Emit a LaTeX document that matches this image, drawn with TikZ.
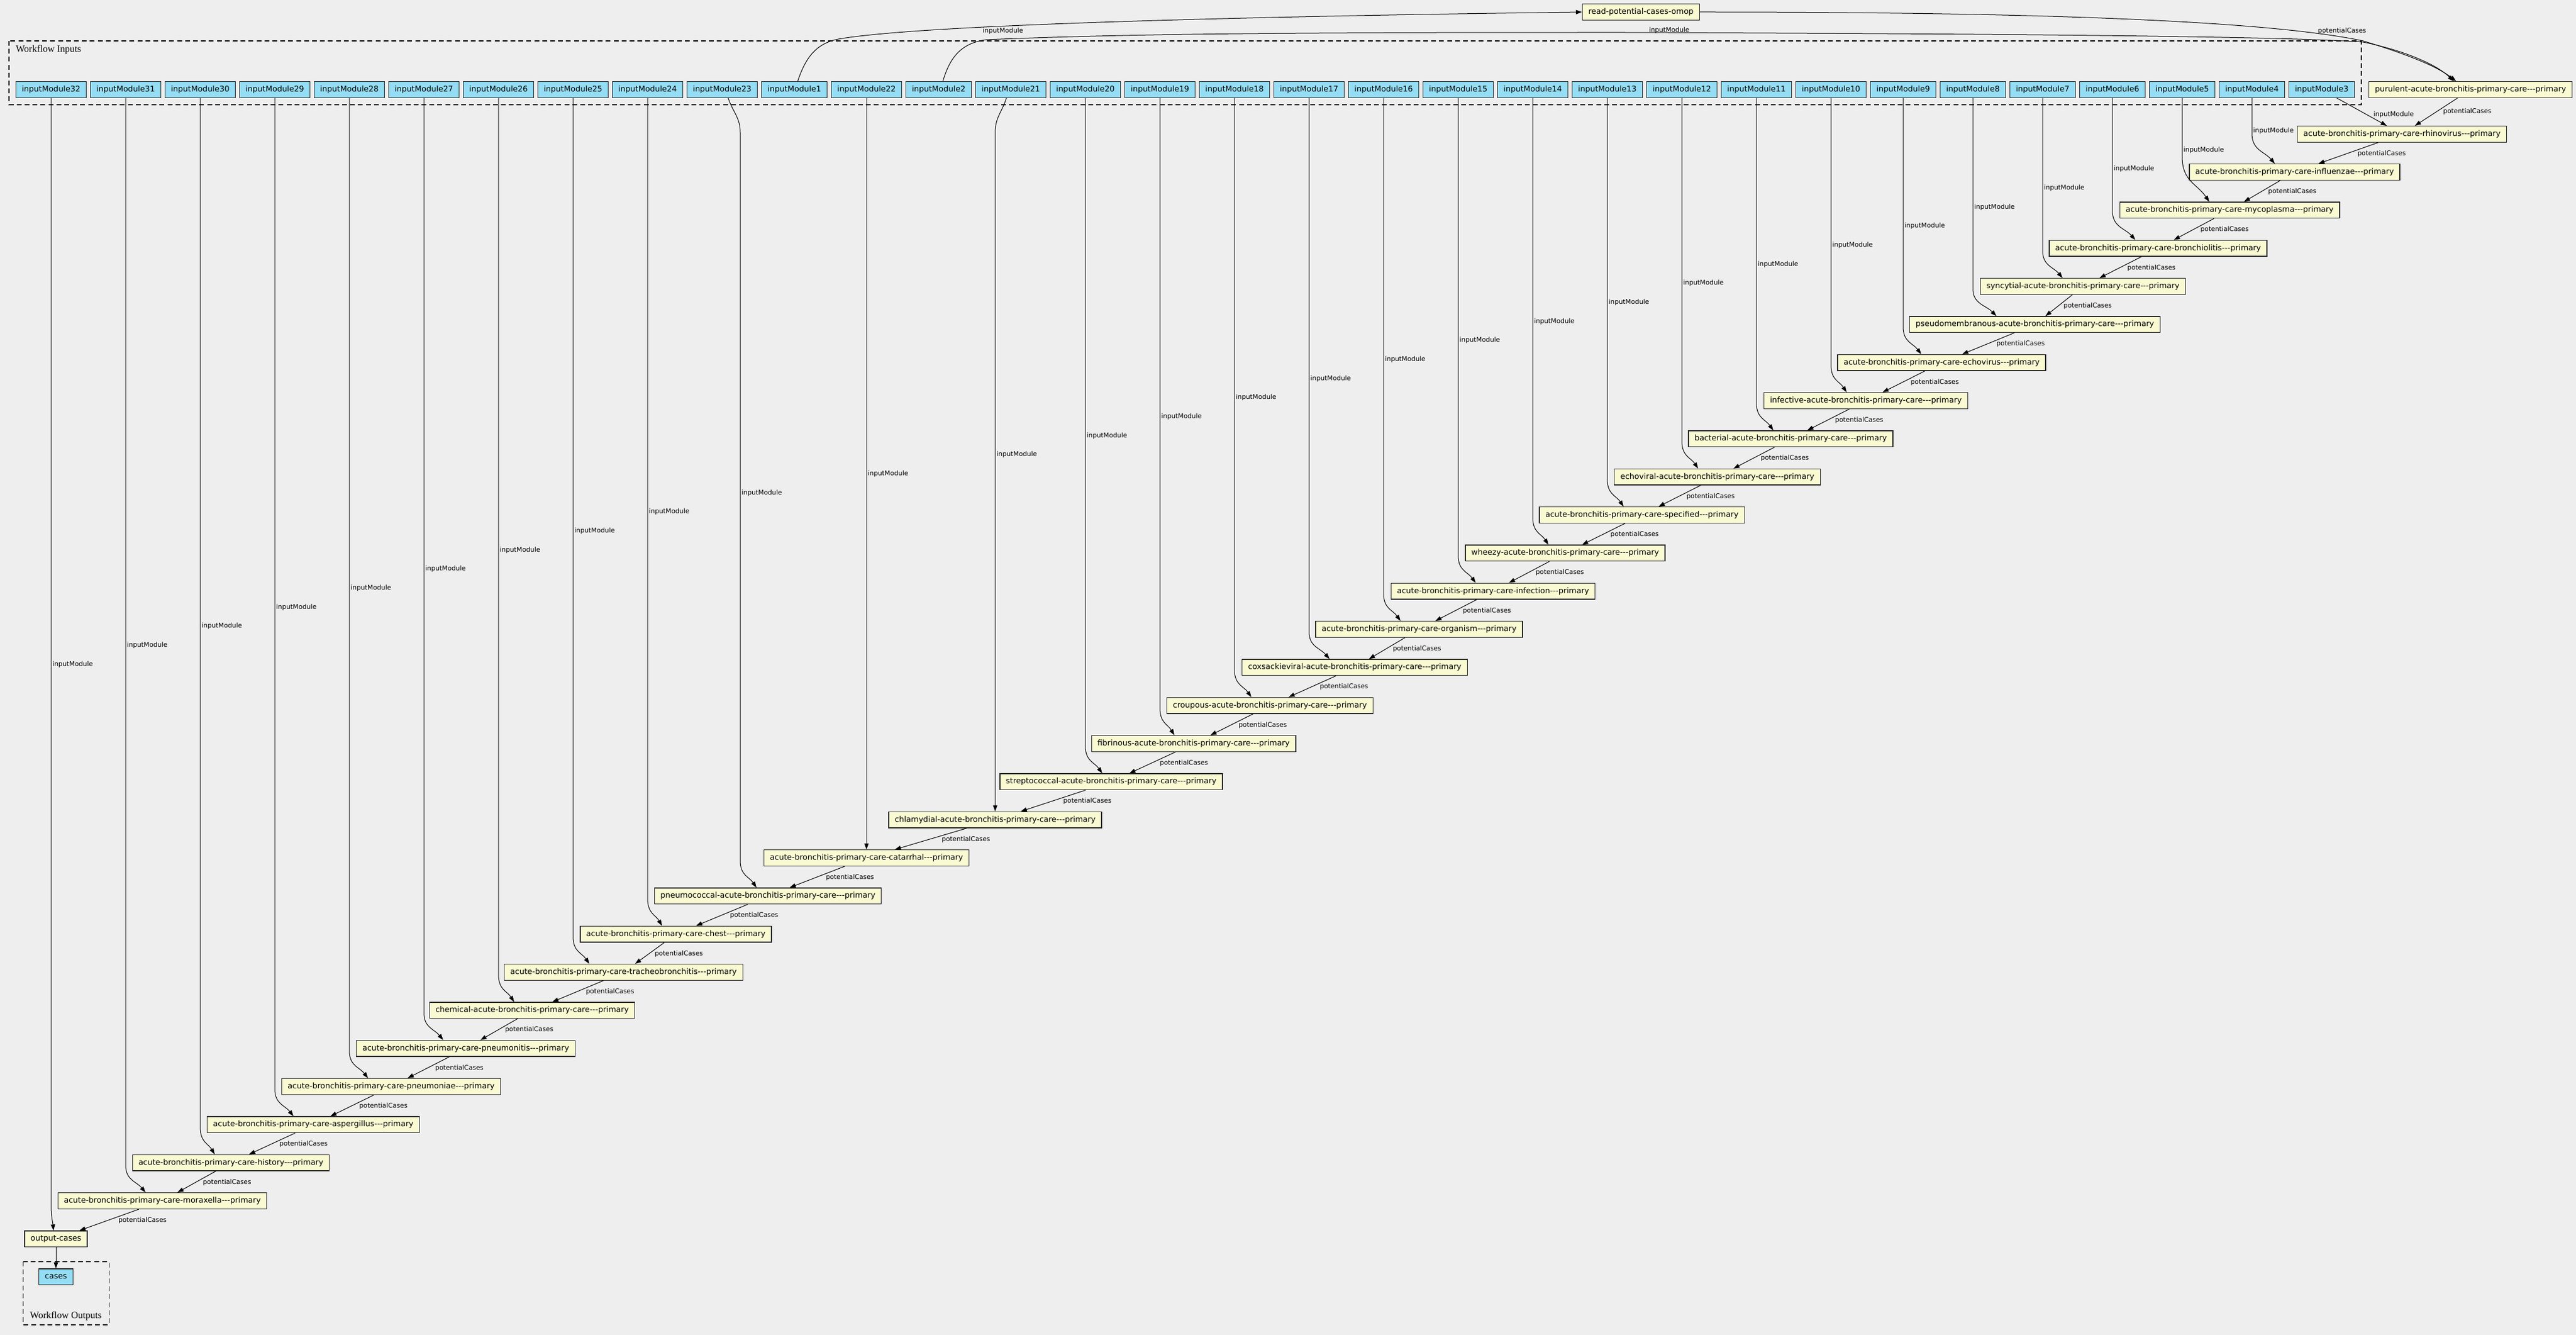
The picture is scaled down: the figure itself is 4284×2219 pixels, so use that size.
\documentclass[tikz,border=0pt]{standalone}
\usepackage{fontspec}
\newfontfamily\dvsans{DejaVu Sans}
\newfontfamily\lbserif{Liberation Serif}
\usetikzlibrary{arrows.meta,calc}
\definecolor{bgc}{HTML}{EEEEEE}
\definecolor{inblue}{HTML}{94DDF4}
\definecolor{stepyel}{HTML}{FAFAD2}
% #1 bend height (px), #2 source, #3 target, #4 arrival x offset (px)
\newcommand\imedge[4][45]{%
  \draw[edge] (#2.south) -- ($(#2.south |- #3.north)+(0,-#1)$)
    .. controls ($(#2.south |- #3.north)+(0,{-0.45*#1})$) and ($(#2.south |- #3.north)+({0.55*#4},{-0.4*#1})$)
    .. ($(#2.south |- #3.north)+(#4,0)$);
  \path (#2.south) -- (#2.south |- #3.north) node[midway, imlbl] {inputModule};
}
\begin{document}
\begin{tikzpicture}[x=0.5pt,y=-0.5pt,
  box/.style={draw=black!85, line width=0.7pt, font=\dvsans\fontsize{6.5pt}{7.8pt}\selectfont, inner xsep=5pt, inner ysep=0pt, text height=4.9pt, text depth=1.4pt, minimum height=13.3pt},
  inbox/.style={box, fill=inblue},
  stepbox/.style={box, fill=stepyel},
  edge/.style={draw=black, line width=0.5pt, -{Triangle[length=5pt,width=3.5pt]}},
  lbl/.style={font=\dvsans\fontsize{5.4pt}{6.5pt}\selectfont, inner sep=0pt},
  imlbl/.style={lbl, anchor=west, inner sep=1pt},
  pcl/.style={lbl, pos=0.36, anchor=north west, xshift=0.6pt},
  cluster/.style={draw=black, line width=0.6pt, dash pattern=on 4pt off 2.6pt},
  clbl/.style={font=\lbserif\fontsize{8pt}{9.6pt}\selectfont, inner sep=0pt}]
\path[use as bounding box, fill=bgc] (0,0) rectangle (4284,2219);

% clusters
\draw[cluster] (15,68) rectangle (3927,174);
\node[clbl, anchor=west] (wfin) at (26,83) {Workflow Inputs};
\draw[cluster] (38.6,2097) rectangle (181.4,2202);
\node[clbl] (wfout) at (109.5,2188) {Workflow Outputs};

% input modules
\node[inbox] (im32) at (85,149) {inputModule32};
\node[inbox] (im31) at (209,149) {inputModule31};
\node[inbox] (im30) at (333,149) {inputModule30};
\node[inbox] (im29) at (457,149) {inputModule29};
\node[inbox] (im28) at (581,149) {inputModule28};
\node[inbox] (im27) at (705,149) {inputModule27};
\node[inbox] (im26) at (829,149) {inputModule26};
\node[inbox] (im25) at (953,149) {inputModule25};
\node[inbox] (im24) at (1077,149) {inputModule24};
\node[inbox] (im23) at (1201,149) {inputModule23};
\node[inbox] (im1) at (1321,149) {inputModule1};
\node[inbox] (im22) at (1441,149) {inputModule22};
\node[inbox] (im2) at (1561,149) {inputModule2};
\node[inbox] (im21) at (1681,149) {inputModule21};
\node[inbox] (im20) at (1805,149) {inputModule20};
\node[inbox] (im19) at (1929,149) {inputModule19};
\node[inbox] (im18) at (2053,149) {inputModule18};
\node[inbox] (im17) at (2177,149) {inputModule17};
\node[inbox] (im16) at (2301,149) {inputModule16};
\node[inbox] (im15) at (2425,149) {inputModule15};
\node[inbox] (im14) at (2549,149) {inputModule14};
\node[inbox] (im13) at (2673,149) {inputModule13};
\node[inbox] (im12) at (2797,149) {inputModule12};
\node[inbox] (im11) at (2921,149) {inputModule11};
\node[inbox] (im10) at (3045,149) {inputModule10};
\node[inbox] (im9) at (3165,149) {inputModule9};
\node[inbox] (im8) at (3281,149) {inputModule8};
\node[inbox] (im7) at (3397,149) {inputModule7};
\node[inbox] (im6) at (3513,149) {inputModule6};
\node[inbox] (im5) at (3629,149) {inputModule5};
\node[inbox] (im4) at (3745,149) {inputModule4};
\node[inbox] (im3) at (3861,149) {inputModule3};

% steps
\node[stepbox] (read) at (2729,20) {read-potential-cases-omop};
\node[stepbox] (pur) at (4108.5,149) {purulent-acute-bronchitis-primary-care---primary};
\node[stepbox] (rhi) at (3994.5,223) {acute-bronchitis-primary-care-rhinovirus---primary};
\node[stepbox] (infl) at (3816,286) {acute-bronchitis-primary-care-influenzae---primary};
\node[stepbox] (myc) at (3708,349.33) {acute-bronchitis-primary-care-mycoplasma---primary};
\node[stepbox] (bro) at (3589,412.67) {acute-bronchitis-primary-care-bronchiolitis---primary};
\node[stepbox] (syn) at (3464,476) {syncytial-acute-bronchitis-primary-care---primary};
\node[stepbox] (pse) at (3384,539.33) {pseudomembranous-acute-bronchitis-primary-care---primary};
\node[stepbox] (ecv) at (3229,602.67) {acute-bronchitis-primary-care-echovirus---primary};
\node[stepbox] (ifv) at (3103,666) {infective-acute-bronchitis-primary-care---primary};
\node[stepbox] (bac) at (2978,729.33) {bacterial-acute-bronchitis-primary-care---primary};
\node[stepbox] (ecl) at (2856,792.67) {echoviral-acute-bronchitis-primary-care---primary};
\node[stepbox] (spe) at (2730.6,856) {acute-bronchitis-primary-care-specified---primary};
\node[stepbox] (whe) at (2603,919.33) {wheezy-acute-bronchitis-primary-care---primary};
\node[stepbox] (ifn) at (2483,982.67) {acute-bronchitis-primary-care-infection---primary};
\node[stepbox] (org) at (2360,1046) {acute-bronchitis-primary-care-organism---primary};
\node[stepbox] (cox) at (2253,1109.33) {coxsackieviral-acute-bronchitis-primary-care---primary};
\node[stepbox] (cro) at (2112,1172.67) {croupous-acute-bronchitis-primary-care---primary};
\node[stepbox] (fib) at (1985,1236) {fibrinous-acute-bronchitis-primary-care---primary};
\node[stepbox] (str) at (1848,1299.33) {streptococcal-acute-bronchitis-primary-care---primary};
\node[stepbox] (chl) at (1655,1362.67) {chlamydial-acute-bronchitis-primary-care---primary};
\node[stepbox] (cat) at (1441,1426) {acute-bronchitis-primary-care-catarrhal---primary};
\node[stepbox] (pnc) at (1277,1489.33) {pneumococcal-acute-bronchitis-primary-care---primary};
\node[stepbox] (che) at (1124,1552.67) {acute-bronchitis-primary-care-chest---primary};
\node[stepbox] (tra) at (1037,1616) {acute-bronchitis-primary-care-tracheobronchitis---primary};
\node[stepbox] (chm) at (885,1679.33) {chemical-acute-bronchitis-primary-care---primary};
\node[stepbox] (pnt) at (774.6,1742.67) {acute-bronchitis-primary-care-pneumonitis---primary};
\node[stepbox] (pna) at (650.5,1806) {acute-bronchitis-primary-care-pneumoniae---primary};
\node[stepbox] (asp) at (521,1869.33) {acute-bronchitis-primary-care-aspergillus---primary};
\node[stepbox] (his) at (384,1932.67) {acute-bronchitis-primary-care-history---primary};
\node[stepbox] (mor) at (270,1996) {acute-bronchitis-primary-care-moraxella---primary};
\node[stepbox] (outc) at (93,2059.33) {output-cases};
\node[inbox] (cases) at (93,2122.33) {cases};

% long top edges
\draw[edge] ($(im1.north)+(5.6,0)$) .. controls (1340,95) and (1358,70) .. (1400,64)
  .. controls (1550,40) and (2100,27) .. (read.west);
\node[lbl] (lim1) at (1668,52) {inputModule};
\draw[edge] ($(im2.north)+(7,0)$) .. controls (1580,95) and (1598,72) .. (1640,66)
  .. controls (1900,55) and (2200,54) .. (2700,54)
  .. controls (3300,56) and (3800,60) .. (3930,70)
  .. controls (3990,82) and (4050,105) .. ($(pur.north)+(-28,0)$);
\node[lbl] (lim2) at (2776,51) {inputModule};
\draw[edge] (read.east) .. controls (3300,20) and (3750,30) .. (3930,68)
  .. controls (3995,88) and (4050,108) .. ($(pur.north)+(-24,0)$);
\node[lbl] (lread) at (3895,52) {potentialCases};

% input module edges
\draw[edge] (im3) -- (rhi) node[lbl, pos=0.5, anchor=west, xshift=9.5pt, yshift=-2.5pt] {inputModule};
\imedge[50]{im4}{infl}{38}
\imedge[75]{im5}{myc}{45}
\imedge[48]{im6}{bro}{38}
\imedge{im7}{syn}{33}
\imedge{im8}{pse}{39}
\imedge{im9}{ecv}{30}
\imedge{im10}{ifv}{26}
\imedge{im11}{bac}{28}
\imedge{im12}{ecl}{27}
\imedge{im13}{spe}{27}
\imedge{im14}{whe}{26}
\imedge{im15}{ifn}{29}
\imedge{im16}{org}{28}
\imedge{im17}{cox}{34}
\imedge{im18}{cro}{28}
\imedge{im19}{fib}{24}
\imedge{im20}{str}{28}
\coordinate (b21) at ($(im21.south)+(-26,57)$);
\draw[edge] ($(im21.south)+(-7.4,0)$) .. controls ($(im21.south)+(-14,22)$) and ($(im21.south)+(-26,32)$) .. (b21) -- (b21 |- chl.north);
\path (b21 |- im21.south) -- (b21 |- chl.north) node[midway, imlbl] {inputModule};
\imedge{im22}{cat}{0}
\coordinate (b23) at ($(im23.south)+(30,57)$);
\draw[edge] ($(im23.south)+(10,0)$) .. controls ($(im23.south)+(17,22)$) and ($(im23.south)+(30,32)$) .. (b23)
  -- ($(b23 |- pnc.north)+(0,-45)$) .. controls ($(b23 |- pnc.north)+(0,-20)$) and ($(b23 |- pnc.north)+(15,-18)$) .. ($(b23 |- pnc.north)+(27,0)$);
\path (b23 |- im23.south) -- (b23 |- pnc.north) node[midway, imlbl] {inputModule};
\imedge{im24}{che}{24}
\imedge{im25}{tra}{27}
\imedge{im26}{chm}{26}
\imedge{im27}{pnt}{32}
\imedge{im28}{pna}{31}
\imedge{im29}{asp}{31}
\imedge{im30}{his}{24}
\imedge{im31}{mor}{33}
\imedge{im32}{outc}{4}

% potentialCases chain
\draw[edge] (pur) -- (rhi) node[pcl] {potentialCases};
\draw[edge] (rhi) -- (infl) node[pcl] {potentialCases};
\draw[edge] (infl) -- (myc) node[pcl] {potentialCases};
\draw[edge] (myc) -- (bro) node[pcl] {potentialCases};
\draw[edge] (bro) -- (syn) node[pcl] {potentialCases};
\draw[edge] (syn) -- (pse) node[pcl] {potentialCases};
\draw[edge] (pse) -- (ecv) node[pcl] {potentialCases};
\draw[edge] (ecv) -- (ifv) node[pcl] {potentialCases};
\draw[edge] (ifv) -- (bac) node[pcl] {potentialCases};
\draw[edge] (bac) -- (ecl) node[pcl] {potentialCases};
\draw[edge] (ecl) -- (spe) node[pcl] {potentialCases};
\draw[edge] (spe) -- (whe) node[pcl] {potentialCases};
\draw[edge] (whe) -- (ifn) node[pcl] {potentialCases};
\draw[edge] (ifn) -- (org) node[pcl] {potentialCases};
\draw[edge] (org) -- (cox) node[pcl] {potentialCases};
\draw[edge] (cox) -- (cro) node[pcl] {potentialCases};
\draw[edge] (cro) -- (fib) node[pcl] {potentialCases};
\draw[edge] (fib) -- (str) node[pcl] {potentialCases};
\draw[edge] (str) -- (chl) node[pcl] {potentialCases};
\draw[edge] (chl) -- (cat) node[pcl] {potentialCases};
\draw[edge] (cat) -- (pnc) node[pcl] {potentialCases};
\draw[edge] (pnc) -- (che) node[pcl] {potentialCases};
\draw[edge] (che) -- (tra) node[pcl] {potentialCases};
\draw[edge] (tra) -- (chm) node[pcl] {potentialCases};
\draw[edge] (chm) -- (pnt) node[pcl] {potentialCases};
\draw[edge] (pnt) -- (pna) node[pcl] {potentialCases};
\draw[edge] (pna) -- (asp) node[pcl] {potentialCases};
\draw[edge] (asp) -- (his) node[pcl] {potentialCases};
\draw[edge] (his) -- (mor) node[pcl] {potentialCases};
\draw[edge] (mor) -- (outc) node[pcl] {potentialCases};
\draw[edge] (outc) -- (cases);
\end{tikzpicture}
\end{document}
